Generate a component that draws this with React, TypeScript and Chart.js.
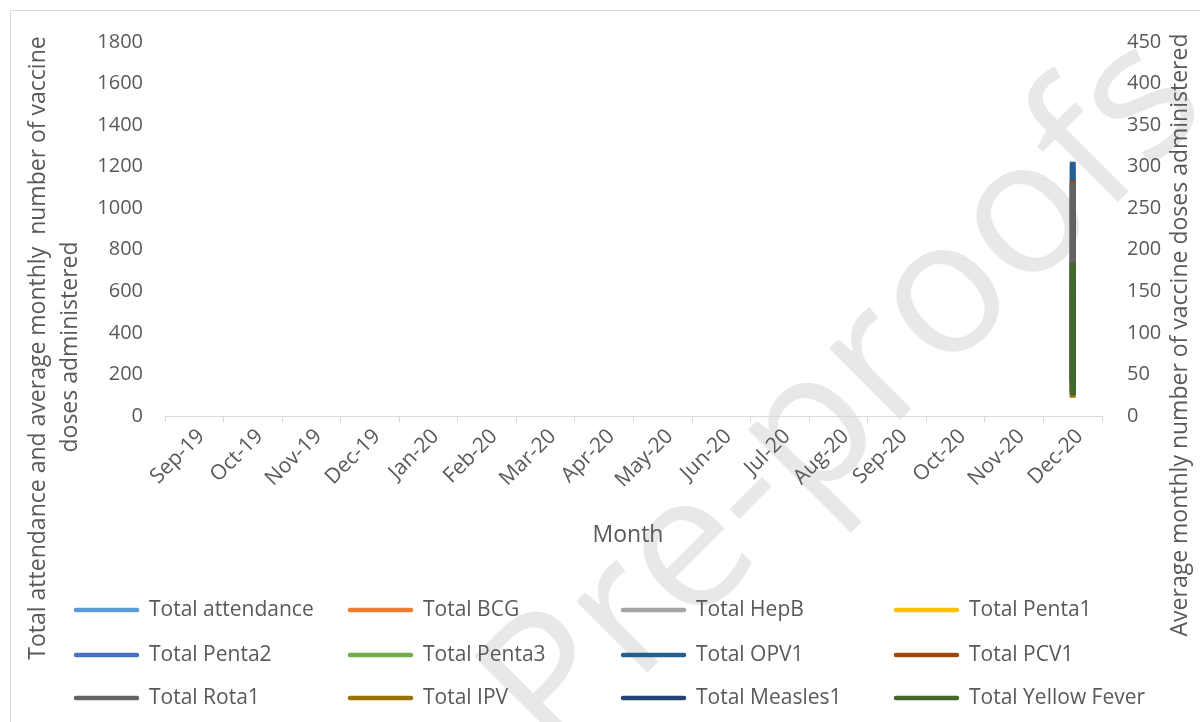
import React, { useEffect, useRef } from 'react';
import { Chart, registerables } from 'chart.js';

Chart.register(...registerables);

// ---------- data ----------
const months = ['Sep-19', 'Oct-19', 'Nov-19', 'Dec-19', 'Jan-20', 'Feb-20', 'Mar-20', 'Apr-20', 'May-20', 'Jun-20', 'Jul-20', 'Aug-20', 'Sep-20', 'Oct-20', 'Nov-20', 'Dec-20'];
const plottedMonth = 'Dec-20';
const leftTickStep = 200;
const leftMax = 1800;
const rightTickStep = 50;
const rightMax = 450;

// values plotted (all fall on the Dec-20 category in the source chart)
const totalAttendance = [420, 1200]; // left axis
const totalBCG = [30, 150];
const totalHepB = [28, 120];
const totalPenta1 = [24, 170];
const totalPenta2 = [40, 200];
const totalPenta3 = [40, 190];
const totalOPV1 = [45, 306];
const totalPCV1 = [40, 283];
const totalRota1 = [40, 281];
const totalIPV = [22, 150];
const totalMeasles1 = [30, 170];
const totalYellowFever = [25, 184];

const seriesNames = ['Total attendance', 'Total BCG', 'Total HepB', 'Total Penta1', 'Total Penta2', 'Total Penta3', 'Total OPV1', 'Total PCV1', 'Total Rota1', 'Total IPV', 'Total Measles1', 'Total Yellow Fever'];
const seriesValues = [totalAttendance, totalBCG, totalHepB, totalPenta1, totalPenta2, totalPenta3, totalOPV1, totalPCV1, totalRota1, totalIPV, totalMeasles1, totalYellowFever];
const seriesAxes = ['y', 'y1', 'y1', 'y1', 'y1', 'y1', 'y1', 'y1', 'y1', 'y1', 'y1', 'y1'];
const seriesColors = ['#5B9BD5', '#ED7D31', '#A5A5A5', '#FFC000', '#4472C4', '#70AD47', '#255E91', '#9E480E', '#636363', '#997300', '#264478', '#43682B'];

const leftTitle = ['Total attendance and average monthly  number of vaccine', 'doses administered'];
const rightTitle = 'Average monthly number of vaccine doses administered';
const xTitle = 'Month';
const watermark = 'Pre-proofs';

const FONT = "'Open Sans', sans-serif";
const TEXT = '#595959';

const decorPlugin = {
  id: 'decor',
  beforeDraw(chart: any) {
    const ctx = chart.ctx as CanvasRenderingContext2D;
    ctx.save();
    // frame
    ctx.strokeStyle = '#d9d9d9';
    ctx.lineWidth = 1;
    ctx.strokeRect(10.5, 10.5, 1300, 900);
    // watermark
    const size = 188;
    ctx.font = `${size}px ${FONT}`;
    const stem = ctx.measureText('Pre-').width + 0.13 * size;
    ctx.translate(805, 475);
    ctx.rotate((-45 * Math.PI) / 180);
    ctx.fillStyle = '#e8e8e8';
    ctx.textAlign = 'left';
    ctx.textBaseline = 'alphabetic';
    ctx.fillText(watermark, -stem, 0.15 * size);
    ctx.restore();
  },
  afterDraw(chart: any) {
    const ctx = chart.ctx as CanvasRenderingContext2D;
    ctx.save();
    ctx.fillStyle = TEXT;
    ctx.textAlign = 'center';
    ctx.textBaseline = 'middle';
    ctx.font = `23px ${FONT}`;
    const drawV = (t: string, x: number, y: number) => {
      ctx.save();
      ctx.translate(x, y);
      ctx.rotate(-Math.PI / 2);
      ctx.fillText(t, 0, 0);
      ctx.restore();
    };
    drawV(leftTitle[0], 38, 348);
    drawV(leftTitle[1], 70, 347);
    drawV(rightTitle, 1180, 335);
    ctx.font = `23px ${FONT}`;
    ctx.fillText(xTitle, 628, 535);

    // legend grid
    const colX = [76, 350, 623, 896];
    const rowY = [610, 655, 698];
    ctx.font = `21px ${FONT}`;
    ctx.textAlign = 'left';
    seriesNames.forEach((name, i) => {
      const x = colX[i % 4];
      const y = rowY[Math.floor(i / 4)];
      ctx.strokeStyle = seriesColors[i];
      ctx.lineWidth = 4.5;
      ctx.lineCap = 'round';
      ctx.beginPath();
      ctx.moveTo(x, y);
      ctx.lineTo(x + 61, y);
      ctx.stroke();
      ctx.fillStyle = TEXT;
      ctx.fillText(name, x + 73, y);
    });
    ctx.restore();
  },
};

export default function App() {
  const ref = useRef<HTMLCanvasElement>(null);
  useEffect(() => {
    if (!ref.current) return;
    const n = seriesNames.length;
    const chart = new Chart(ref.current, {
      type: 'line',
      data: {
        labels: months,
        datasets: seriesNames.map((name, i) => ({
          label: name,
          data: seriesValues[i].map((v) => ({ x: plottedMonth, y: v })),
          yAxisID: seriesAxes[i],
          borderColor: seriesColors[i],
          backgroundColor: seriesColors[i],
          borderWidth: 6,
          borderCapStyle: 'butt' as const,
          pointRadius: 0,
          fill: false,
          order: n - i,
        })),
      },
      options: {
        responsive: false,
        animation: false,
        devicePixelRatio: 1,
        layout: { padding: { left: 0, right: 0, top: 42, bottom: 0 } },
        plugins: { legend: { display: false }, tooltip: { enabled: false } },
        scales: {
          x: {
            type: 'category',
            offset: true,
            grid: { display: true, offset: true, drawOnChartArea: false, drawTicks: true, tickLength: 6, color: '#d9d9d9', lineWidth: 1 },
            border: { display: true, color: '#d9d9d9', width: 1 },
            ticks: { minRotation: 45, maxRotation: 45, autoSkip: false, color: TEXT, font: { family: FONT, size: 21 }, padding: 2, labelOffset: 7 },
            afterFit(s: any) { s.height = 722 - 416; },
          },
          y: {
            position: 'left',
            min: 0,
            max: leftMax,
            ticks: { stepSize: leftTickStep, padding: 22, color: TEXT, font: { family: FONT, size: 20 }, callback: (v: any) => String(v) },
            grid: { display: false, drawTicks: false },
            border: { display: false },
            afterFit(s: any) { s.width = 165; },
          },
          y1: {
            position: 'right',
            min: 0,
            max: rightMax,
            ticks: { stepSize: rightTickStep, padding: 25, color: TEXT, font: { family: FONT, size: 20 }, callback: (v: any) => String(v) },
            grid: { display: false, drawTicks: false },
            border: { display: false },
            afterFit(s: any) { s.width = 1200 - 1102; },
          },
        },
      } as any,
      plugins: [decorPlugin],
    });
    return () => chart.destroy();
  }, []);
  return (
    <div style={{ position: 'fixed', left: 0, top: 0, width: 1200, height: 722, background: '#fff' }}>
      <canvas ref={ref} width={1200} height={722} />
    </div>
  );
}
